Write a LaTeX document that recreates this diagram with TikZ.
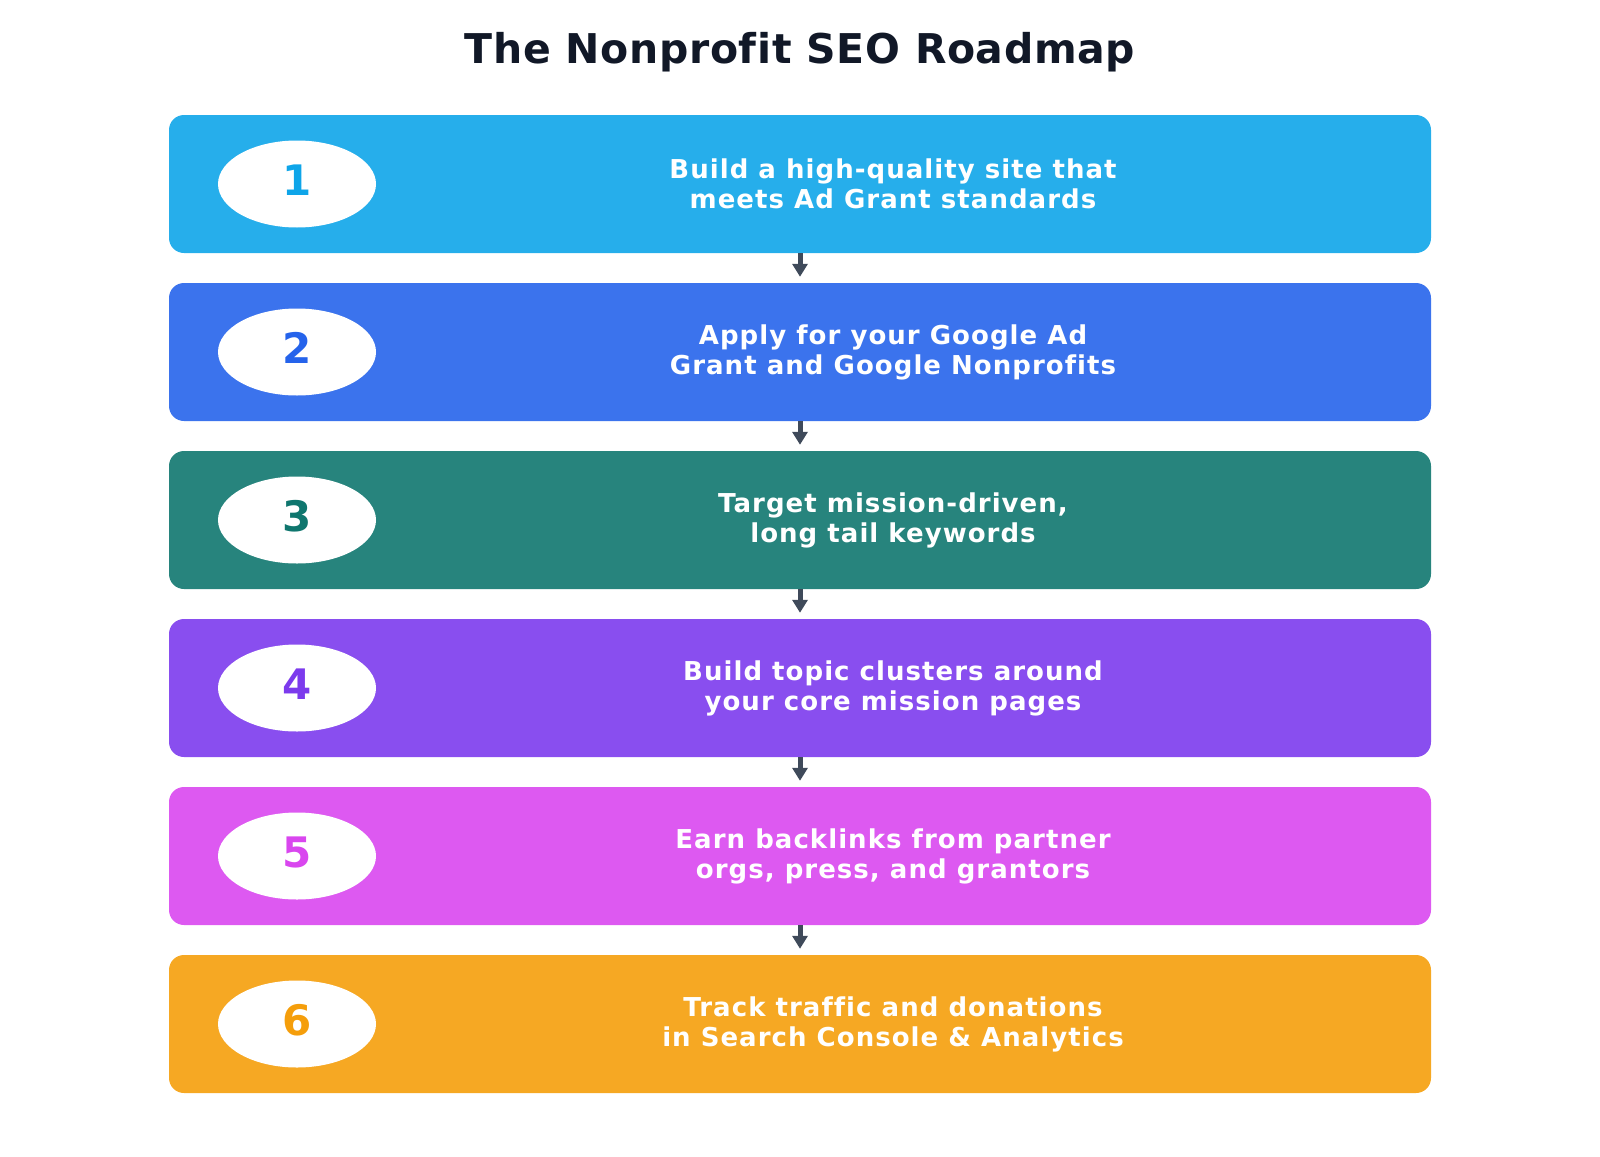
\documentclass[tikz,border=0pt]{standalone}
\usepackage{fontspec}
\setmainfont{DejaVu Sans}[Ligatures=NoCommon]
\newfontfamily\bodyfont{DejaVu Sans}[LetterSpace=4, Ligatures=NoCommon]
\newfontfamily\headfont{DejaVu Sans}[LetterSpace=1.5, Ligatures=NoCommon]
\usetikzlibrary{arrows.meta,shapes.geometric}
\definecolor{cA}{HTML}{0EA5E9}
\definecolor{cB}{HTML}{2563EB}
\definecolor{cC}{HTML}{0F766E}
\definecolor{cD}{HTML}{7C3AED}
\definecolor{cE}{HTML}{D946EF}
\definecolor{cF}{HTML}{F59E0B}
\definecolor{titlec}{HTML}{111827}
\definecolor{arrowc}{HTML}{3F4A5A}
\tikzset{
  stepbox/.style={fill=#1!90!white, draw=none, rounded corners=15pt, minimum width=1262pt, minimum height=138pt, inner sep=0pt},
  numoval/.style={ellipse, fill=white, draw=none, minimum width=158pt, minimum height=87pt, inner sep=0pt, text depth=8pt, text=#1, font=\fontsize{42}{48}\selectfont\bfseries},
  steptext/.style={text=white, align=center, font=\bodyfont\fontsize{26}{30}\selectfont\bfseries},
  flowarrow/.style={draw=arrowc, line width=5pt, -{Triangle[width=15pt,length=13pt]}, shorten >=6pt},
}
\begin{document}
\begin{tikzpicture}[x=1pt,y=-1pt]
\useasboundingbox (0,0) rectangle (1600,1156);
\node[text=titlec, font=\headfont\fontsize{41}{48}\selectfont\bfseries] (title) at (800,52) {The Nonprofit SEO Roadmap};
\foreach \i/\c/\t in {1/cA/{Build a high-quality site that\\meets Ad Grant standards},
                      2/cB/{Apply for your Google Ad\\Grant and Google Nonprofits},
                      3/cC/{Target mission-driven,\\long tail keywords},
                      4/cD/{Build topic clusters around\\your core mission pages},
                      5/cE/{Earn backlinks from partner\\orgs, press, and grantors},
                      6/cF/{Track traffic and donations\\in Search Console \& Analytics}}{
  \pgfmathsetmacro{\cy}{184+168*(\i-1)}
  \node[stepbox=\c] (box\i) at (800,\cy) {};
  \node[numoval=\c] (num\i) at (297,\cy) {\i};
  \node[steptext] (txt\i) at (893,\cy) {\t};
}
\foreach \a/\b in {1/2,2/3,3/4,4/5,5/6}{
  \draw[flowarrow] (box\a.south) -- (box\b.north);
}
\end{tikzpicture}
\end{document}
